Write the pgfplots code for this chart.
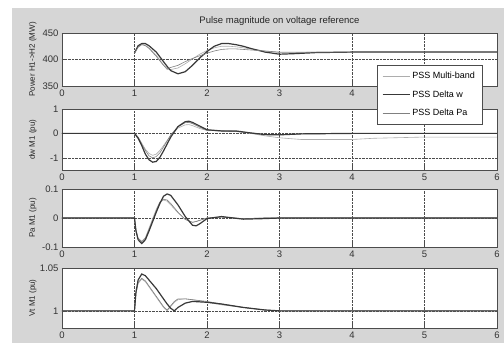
\documentclass[border=0pt]{standalone}
\usepackage{pgfplots}
\pgfplotsset{compat=1.18}
\usepackage{pgfplotstable}
\usepackage{fontspec}
\setmainfont{Liberation Sans}
\definecolor{figbg}{gray}{0.84}
\definecolor{cMB}{gray}{0.68}
\definecolor{cDW}{gray}{0.22}
\definecolor{cDP}{gray}{0.5}
\definecolor{axc}{gray}{0.3}

\pgfplotstableread{
t MB DW DP
1.00 412 412 412
1.05 424 426 423
1.10 429 430 428
1.15 427 430 426
1.20 422 426 421
1.30 408 414 406
1.40 390 396 389
1.45 381 387 383
1.50 381 379 385
1.60 384 373 389
1.70 392 377 396
1.80 401 389 402
1.90 410 403 407
2.00 417 415 412
2.10 422 425 416
2.20 425 430 419
2.30 425 430 420
2.40 424 428 420
2.50 422 425 419
2.60 420 421 418
2.80 416 414 416
3.00 413 410 414
3.20 413 411 414
3.50 414 413 414
4.00 414 414 414
5.00 414 414 414
6.00 414 414 414
}\tpow

\pgfplotstableread{
t MB DW DP
0.00 0 0 0
1.00 0 0 0
1.05 -0.15 -0.2 -0.15
1.10 -0.4 -0.5 -0.45
1.15 -0.65 -0.85 -0.7
1.20 -0.82 -1.08 -0.92
1.25 -0.9 -1.18 -1.0
1.30 -0.85 -1.15 -0.95
1.35 -0.7 -0.98 -0.8
1.40 -0.5 -0.72 -0.56
1.50 -0.08 -0.15 -0.06
1.60 0.22 0.28 0.28
1.70 0.35 0.48 0.44
1.75 0.36 0.5 0.45
1.80 0.32 0.45 0.4
1.90 0.2 0.3 0.25
2.00 0.12 0.15 0.13
2.20 0.1 0.1 0.1
2.40 0.08 0.1 0.08
2.60 0.0 0.02 0.02
2.80 -0.1 -0.05 -0.04
3.00 -0.18 -0.06 -0.05
3.30 -0.25 -0.02 -0.02
4.00 -0.25 0 0
4.30 -0.2 0 0
5.00 -0.15 0 0
6.00 -0.15 0 0
}\tdw

\pgfplotstableread{
t MB DW DP
0.00 0 0 0
1.00 0 0 0
1.02 -0.04 -0.045 -0.04
1.05 -0.07 -0.075 -0.07
1.10 -0.08 -0.088 -0.082
1.15 -0.068 -0.075 -0.07
1.20 -0.035 -0.045 -0.04
1.30 0.03 0.02 0.025
1.35 0.055 0.05 0.055
1.40 0.062 0.075 0.065
1.45 0.058 0.083 0.062
1.50 0.045 0.078 0.05
1.60 0.018 0.045 0.02
1.70 -0.005 0.005 -0.005
1.80 -0.015 -0.025 -0.015
1.85 -0.012 -0.027 -0.012
1.90 -0.008 -0.02 -0.008
2.00 0.0 -0.002 0.0
2.20 0.004 0.005 0.003
2.50 -0.003 -0.004 -0.002
2.80 0.001 -0.002 0
3.00 0 0 0
6.00 0 0 0
}\tpa

\pgfplotstableread{
t MB DW DP
0.00 1 1 1
1.00 1 1 1
1.02 1.02 1.022 1.02
1.05 1.032 1.036 1.033
1.10 1.037 1.043 1.038
1.15 1.034 1.041 1.035
1.20 1.028 1.036 1.029
1.30 1.016 1.026 1.017
1.40 1.004 1.014 1.005
1.45 1.0 1.008 1.001
1.50 1.005 1.003 1.006
1.55 1.01 1.0 1.011
1.60 1.013 1.004 1.014
1.70 1.014 1.009 1.014
1.80 1.013 1.011 1.013
2.00 1.01 1.01 1.011
2.20 1.007 1.008 1.008
2.50 1.004 1.004 1.004
2.80 1.001 1.001 1.001
3.00 1.0 1.0 1.0
6.00 1 1 1
}\tvt

\pgfplotsset{
 sub/.style={
  scale only axis, width=435pt, xmin=0, xmax=6, xtick={0,1,2,3,4,5,6},
  anchor=south west,
  axis background/.style={fill=white},
  axis line style={axc, line width=0.8pt},
  tick style={axc},
  tick align=inside, tick pos=left,
  grid=major, major grid style={densely dotted, black!70, line width=0.5pt},
  tick label style={font=\fontsize{9.5}{10}\selectfont, text=black!80},
  /pgf/number format/assume math mode=true,
  ylabel style={font=\fontsize{8}{9}\selectfont, text=black!85, at={(axis description cs:-0.067,0.5)}, anchor=center},
 },
 mb/.style={cMB, line width=0.6pt},
 dw/.style={cDW, line width=1.2pt},
 dp/.style={cDP, line width=0.6pt},
}

\begin{document}
\begin{tikzpicture}[x=1pt,y=1pt]
\useasboundingbox (0,0) rectangle (504,343);
\fill[white] (0,0) rectangle (504,343);
\fill[figbg] (12,0) rectangle (504,335);

% axis 4
\begin{axis}[sub, at={(62pt,15pt)}, height=60pt, ymin=0.98, ymax=1.05,
  ytick={1,1.05}, yticklabels={1,1.05}, ylabel={Vt M1 (pu)}]
\addplot[mb] table[x=t,y=MB] {\tvt};
\addplot[dp] table[x=t,y=DP] {\tvt};
\addplot[dw] table[x=t,y=DW] {\tvt};
\end{axis}

% axis 3
\begin{axis}[sub, at={(62pt,96pt)}, height=58pt, ymin=-0.1, ymax=0.1,
  ytick={-0.1,0,0.1}, yticklabels={-0.1,0,0.1}, ylabel={Pa M1 (pu)}]
\addplot[mb] table[x=t,y=MB] {\tpa};
\addplot[dp] table[x=t,y=DP] {\tpa};
\addplot[dw] table[x=t,y=DW] {\tpa};
\end{axis}

% axis 2
\begin{axis}[sub, at={(62pt,173pt)}, height=61pt, ymin=-1.5, ymax=1,
  ytick={-1,0,1}, yticklabels={-1,0,1}, ylabel={dw M1 (pu)}]
\addplot[mb] table[x=t,y=MB] {\tdw};
\addplot[dp] table[x=t,y=DP] {\tdw};
\addplot[dw] table[x=t,y=DW] {\tdw};
\node[anchor=south west, font=\fontsize{8}{9}\selectfont, text=black!80, inner sep=1pt] at (rel axis cs:0,1) {x 10$^{-3}$};
\end{axis}

% axis 1
\begin{axis}[sub, at={(62pt,257pt)}, height=53pt, ymin=350, ymax=450,
  xticklabels={0,1,2,3,4,{},{}},
  ytick={350,400,450}, yticklabels={350,400,450}, ylabel={Power H1-{}>H2 (MW)},
  title={Pulse magnitude on voltage reference},
  title style={font=\fontsize{9.5}{10}\selectfont, text=black!85, yshift=-2pt},
  legend style={at={(rel axis cs:0.724,0.396)}, anchor=north west,
    font=\fontsize{9}{10}\selectfont, draw=axc, fill=white, row sep=6.5pt,
    inner sep=5pt, cells={anchor=west}},
  legend image code/.code={\draw[#1] (0pt,0pt) -- (27pt,0pt);}]
\addplot[mb] table[x=t,y=MB] {\tpow};
\addlegendentry{PSS Multi-band}
\addplot[dw] table[x=t,y=DW] {\tpow};
\addlegendentry{PSS Delta w}
\addplot[dp] table[x=t,y=DP] {\tpow};
\addlegendentry{PSS Delta Pa}
\end{axis}
\end{tikzpicture}
\end{document}
